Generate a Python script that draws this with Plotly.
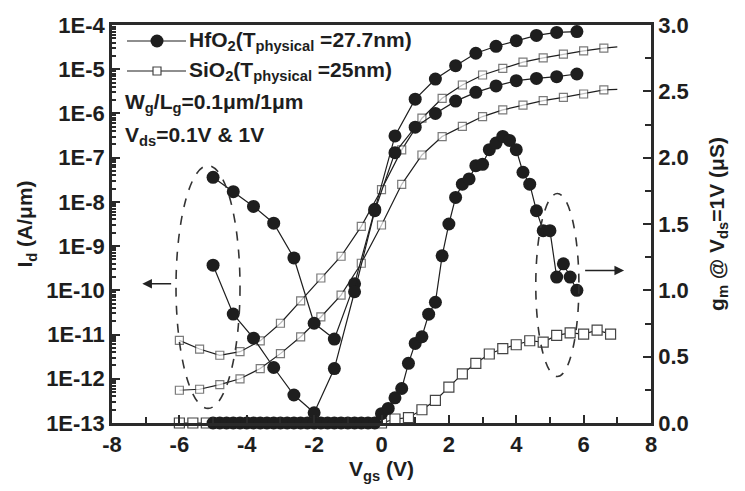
import plotly.graph_objects as go

# ---------------- data ----------------
# Id curves (A/um) vs Vgs (V)
vgs_hf = [-5.0, -4.4, -3.8, -3.2, -2.6, -2.0, -1.4, -0.8, -0.2, 0.4,
          1.0, 1.6, 2.2, 2.8, 3.4, 4.0, 4.6, 5.2, 5.8]
id_hf_1v = [3.6e-8, 1.7e-8, 7.9e-9, 3.3e-9, 5.4e-10, 1.8e-11, 7.9e-12, 1.4e-10, 6.8e-9, 3.1e-7,
            2.1e-6, 6.0e-6, 1.2e-5, 2.3e-5, 3.3e-5, 4.4e-5, 5.8e-5, 6.8e-5, 7.1e-5]
id_hf_01v = [3.7e-10, 2.9e-11, 8.3e-12, 1.8e-12, 4.3e-13, 1.7e-13, 1.7e-12, 9.3e-11, 6.3e-9, 1.3e-7,
             4.9e-7, 1.0e-6, 1.9e-6, 3.0e-6, 4.2e-6, 5.5e-6, 6.2e-6, 6.8e-6, 7.8e-6]

vgs_si = [-6.0, -5.4, -4.8, -4.2, -3.6, -3.0, -2.4, -1.8, -1.2, -0.6, 0.0,
          0.6, 1.2, 1.8, 2.4, 3.0, 3.6, 4.2, 4.8, 5.4, 6.0, 6.6, 7.0]
id_si_1v = [7.4e-12, 4.7e-12, 3.4e-12, 4.1e-12, 7.2e-12, 1.8e-11, 5.8e-11, 1.9e-10, 5.9e-10, 2.8e-9, 1.9e-8,
            1.5e-7, 7.8e-7, 2.2e-6, 4.4e-6, 7.4e-6, 1.05e-5, 1.45e-5, 1.8e-5, 2.2e-5, 2.6e-5, 3.0e-5, 3.2e-5]
id_si_01v = [5.5e-13, 5.8e-13, 7.4e-13, 1.0e-12, 1.7e-12, 3.7e-12, 8.9e-12, 2.5e-11, 7.8e-11, 4.1e-10, 3.0e-9,
             2.5e-8, 1.15e-7, 3.0e-7, 5.1e-7, 8.5e-7, 1.2e-6, 1.55e-6, 1.95e-6, 2.3e-6, 2.75e-6, 3.4e-6, 3.5e-6]
si_marker_shown = [True] * 22 + [False]

# gm @ Vds=1V (uS)
vgs_gm_hf = [-5.0, -4.8, -4.6, -4.4, -4.2, -4.0, -3.8, -3.6, -3.4, -3.2, -3.0, -2.8, -2.6,
             -2.4, -2.2, -2.0, -1.8, -1.6, -1.4, -1.2, -1.0, -0.8, -0.6, -0.4, -0.2,
             0.0, 0.2, 0.4, 0.6, 0.8, 1.0, 1.2, 1.4, 1.6, 1.8, 2.0, 2.2, 2.4, 2.6, 2.8,
             3.0, 3.2, 3.4, 3.6, 3.8, 4.0, 4.2, 4.4, 4.6, 4.8, 5.0, 5.2, 5.4, 5.6, 5.8]
gm_hf = [0.0] * 25 + [0.07, 0.11, 0.19, 0.26, 0.45, 0.60, 0.65, 0.82, 0.91, 1.26,
                      1.50, 1.70, 1.80, 1.84, 1.94, 1.95, 2.06, 2.11, 2.16, 2.13,
                      2.06, 1.89, 1.80, 1.60, 1.45, 1.45, 1.10, 1.20, 1.10, 1.00]
vgs_gm_si = [-6.0, -5.6, -5.2, -4.8, -4.4, -4.0, -3.6, -3.2, -2.8, -2.4, -2.0, -1.6, -1.2,
             -0.8, -0.4, 0.0, 0.4, 0.8, 1.2, 1.6, 2.0, 2.4, 2.8, 3.2, 3.6, 4.0, 4.4,
             4.8, 5.2, 5.6, 6.0, 6.4, 6.8]
gm_si = [0.0] * 16 + [0.03, 0.04, 0.10, 0.17, 0.27, 0.37, 0.45, 0.52, 0.56, 0.59, 0.62,
                      0.61, 0.66, 0.68, 0.67, 0.70, 0.67]

xtick_vals = [-8, -6, -4, -2, 0, 2, 4, 6, 8]
xtick_text = ["-8", "-6", "-4", "-2", "0", "2", "4", "6", "8"]
ytick_vals = [1e-4, 1e-5, 1e-6, 1e-7, 1e-8, 1e-9, 1e-10, 1e-11, 1e-12, 1e-13]
ytick_text = ["1E-4", "1E-5", "1E-6", "1E-7", "1E-8", "1E-9", "1E-10", "1E-11", "1E-12", "1E-13"]

legend_hf = "HfO<sub>2</sub>(T<sub>physical</sub> =27.7nm)"
legend_si = "SiO<sub>2</sub>(T<sub>physical</sub> =25nm)"

# ---------------- style ----------------
INK = "#1e1e1e"
FONT = "Liberation Sans"
hf_marker = dict(symbol="circle", size=13, color=INK, line=dict(width=0))
line_style = dict(color=INK, width=1.2)
sq_line = dict(color="#444444", width=1.2)

fig = go.Figure()

fig.add_trace(go.Scatter(x=vgs_si, y=id_si_1v, mode="lines+markers", name=legend_si,
                         showlegend=False, line=line_style,
                         marker=dict(symbol="square", size=[8 if s else 0 for s in si_marker_shown],
                                     color="white", line=sq_line)))
fig.add_trace(go.Scatter(x=vgs_si, y=id_si_01v, mode="lines+markers", name=legend_si,
                         showlegend=False, line=line_style,
                         marker=dict(symbol="square", size=[8 if s else 0 for s in si_marker_shown],
                                     color="white", line=sq_line)))
fig.add_trace(go.Scatter(x=vgs_hf, y=id_hf_1v, mode="lines+markers", name=legend_hf,
                         showlegend=False, line=line_style, marker=hf_marker))
fig.add_trace(go.Scatter(x=vgs_hf, y=id_hf_01v, mode="lines+markers", name=legend_hf,
                         showlegend=False, line=line_style, marker=hf_marker))

fig.add_trace(go.Scatter(x=vgs_gm_si, y=gm_si, yaxis="y2", mode="lines+markers",
                         showlegend=False, line=line_style, cliponaxis=False,
                         marker=dict(symbol="square", size=10, color="white", line=sq_line)))
fig.add_trace(go.Scatter(x=vgs_gm_hf, y=gm_hf, yaxis="y2", mode="lines+markers",
                         showlegend=False, line=line_style, cliponaxis=False,
                         marker=dict(symbol="circle", size=13, color=INK, line=dict(width=0))))

axis_line = dict(showline=True, linecolor="#2a2a2a", linewidth=2.5, showgrid=False,
                 zeroline=False, tickcolor="#2a2a2a", tickwidth=2)
TICKFONT = dict(size=22)
TITLEFONT = dict(size=21)

fig.update_layout(
    width=745, height=491,
    margin=dict(l=112, r=94, t=25, b=68),
    paper_bgcolor="white", plot_bgcolor="white",
    font=dict(family=FONT, size=20, color=INK, weight="bold"),
    showlegend=False,
    xaxis=dict(range=[-8, 8], tickvals=xtick_vals, ticktext=xtick_text,
               ticks="inside", ticklen=8, mirror=True,
               minor=dict(dtick=1, ticks="inside", ticklen=6, tickcolor="#2a2a2a", tickwidth=2),
               title=dict(text="V<sub>gs</sub> (V)", font=TITLEFONT, standoff=4),
               tickfont=TICKFONT, **axis_line),
    yaxis=dict(type="log", range=[-13, -4], tickvals=ytick_vals, ticktext=ytick_text,
               ticks="inside", ticklen=8,
               minor=dict(ticks="inside", ticklen=4, dtick="D1", tickcolor="#2a2a2a", tickwidth=1.5),
               title=dict(text="I<sub>d</sub> (A/μm)", font=TITLEFONT, standoff=8),
               tickfont=TICKFONT, **axis_line),
    yaxis2=dict(overlaying="y", side="right", range=[0, 3], dtick=0.5, tickformat=".1f",
                ticks="inside", ticklen=8,
                minor=dict(dtick=0.25, ticks="inside", ticklen=6, tickcolor="#2a2a2a", tickwidth=2),
                title=dict(text="g<sub>m</sub> @ V<sub>ds</sub>=1V (μS)", font=TITLEFONT, standoff=22),
                tickfont=TICKFONT, **axis_line),
)

# ---- custom legend (paper coordinates) ----
def px2paper_x(px):
    return (px - 112) / 539.0

def px2paper_y(py):
    return (423 - py) / 398.0

legend_rows = [(41, legend_hf, "hf"), (71, legend_si, "si")]
for py, label, kind in legend_rows:
    yp = px2paper_y(py)
    fig.add_shape(type="line", xref="paper", yref="paper",
                  x0=px2paper_x(127), x1=px2paper_x(186), y0=yp, y1=yp,
                  line=dict(color=INK, width=1.2))
    if kind == "hf":
        fig.add_shape(type="circle", xref="paper", yref="paper",
                      xsizemode="pixel", ysizemode="pixel",
                      xanchor=px2paper_x(157), yanchor=yp, x0=-6.5, x1=6.5, y0=-6.5, y1=6.5,
                      fillcolor=INK, line=dict(color=INK, width=0))
    else:
        fig.add_shape(type="rect", xref="paper", yref="paper",
                      xsizemode="pixel", ysizemode="pixel",
                      xanchor=px2paper_x(157), yanchor=yp, x0=-4, x1=4, y0=-4, y1=4,
                      fillcolor="white", line=dict(color="#444444", width=1.2))
    fig.add_annotation(x=px2paper_x(187), y=yp, xref="paper", yref="paper",
                       xanchor="left", yanchor="middle", text=label, showarrow=False,
                       font=dict(size=21))

# text annotations
fig.add_annotation(x=px2paper_x(123), y=px2paper_y(103), xref="paper", yref="paper",
                   xanchor="left", yanchor="middle",
                   text="W<sub>g</sub>/L<sub>g</sub>=0.1μm/1μm", showarrow=False, font=dict(size=21))
fig.add_annotation(x=px2paper_x(123), y=px2paper_y(136), xref="paper", yref="paper",
                   xanchor="left", yanchor="middle",
                   text="V<sub>ds</sub>=0.1V &amp; 1V", showarrow=False, font=dict(size=21))

# dashed ellipses
fig.add_shape(type="circle", xref="x", yref="y2", x0=-6.1, x1=-4.2, y0=0.11, y1=1.94,
              line=dict(color="#333333", width=1.6, dash="dash"))
fig.add_shape(type="circle", xref="x", yref="y2", x0=4.58, x1=5.86, y0=0.35, y1=1.73,
              line=dict(color="#333333", width=1.6, dash="dash"))

# arrows
fig.add_annotation(x=-7.1, y=1.05, xref="x", yref="y2", ax=-6.2, ay=1.05, axref="x", ayref="y2",
                   text="", showarrow=True, arrowhead=2, arrowsize=1.2, arrowwidth=1.6, arrowcolor="#222")
fig.add_annotation(x=7.2, y=1.15, xref="x", yref="y2", ax=6.0, ay=1.15, axref="x", ayref="y2",
                   text="", showarrow=True, arrowhead=2, arrowsize=1.2, arrowwidth=1.6, arrowcolor="#222")

fig.write_html("out.html")
